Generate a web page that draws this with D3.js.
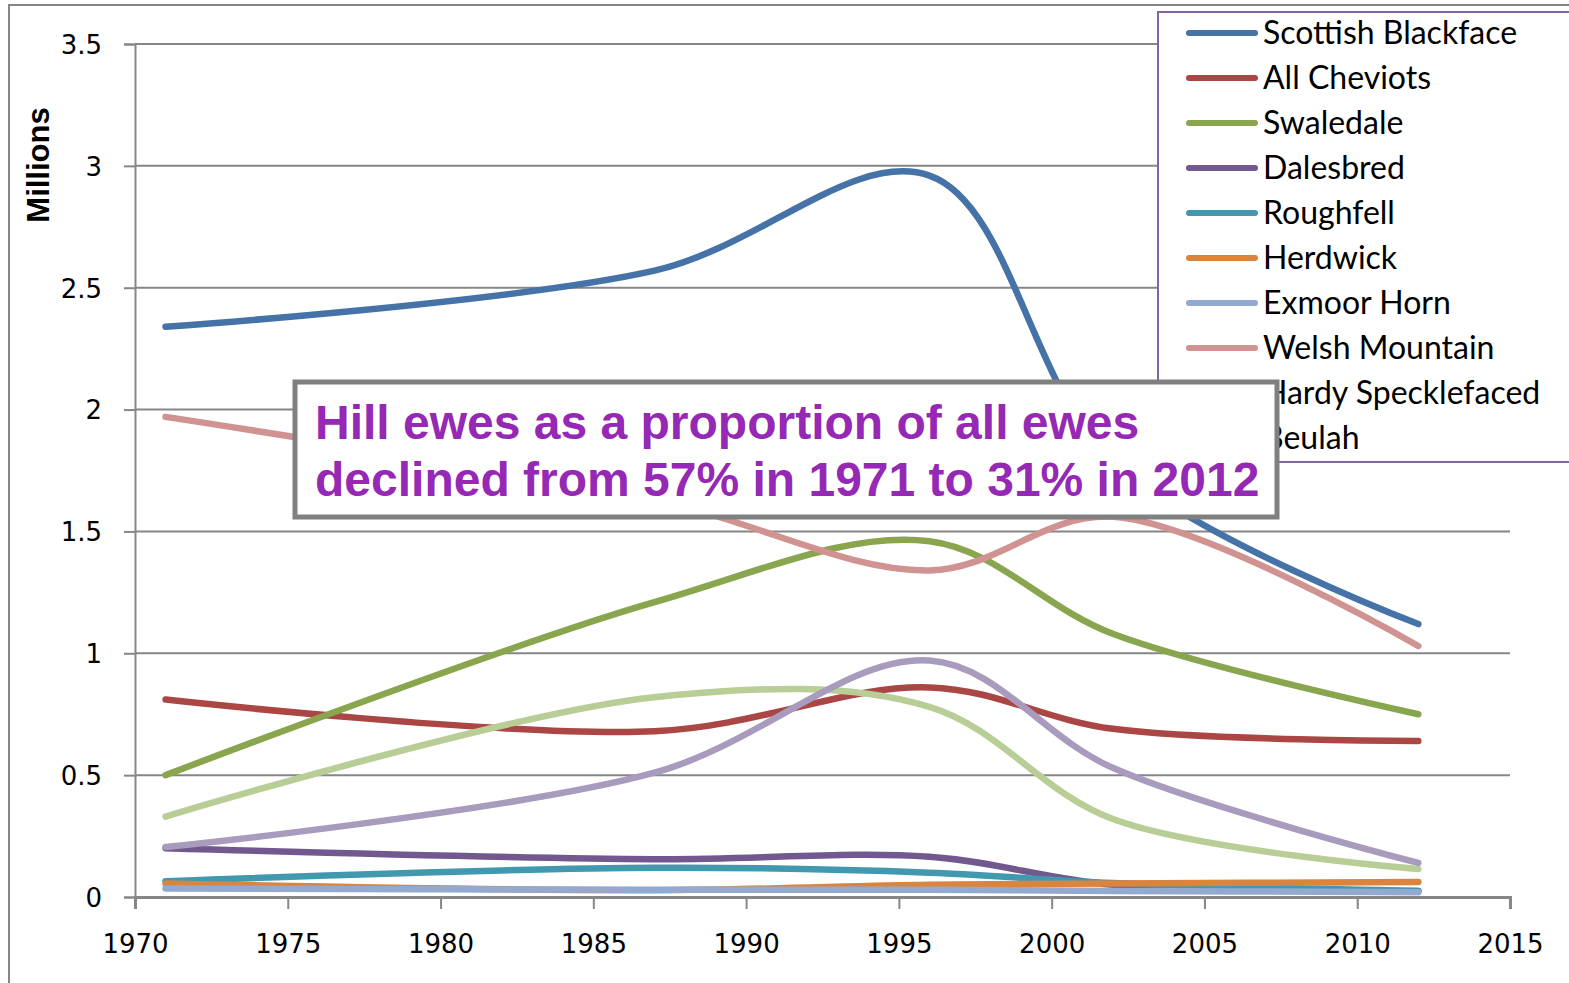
<!DOCTYPE html>
<html>
<head>
<meta charset="utf-8">
<script src="https://cdn.jsdelivr.net/npm/d3@7"></script>
<style>
  body { margin: 0; background: #fff; }
  svg { display: block; }
</style>
</head>
<body>
<svg id="chart"></svg>
<script>
// survey years
const years = [1971, 1987, 1996, 2002, 2012];

// breeds, in legend order
const breeds = ["Scottish Blackface", "All Cheviots", "Swaledale", "Dalesbred", "Roughfell",
    "Herdwick", "Exmoor Horn", "Welsh Mountain", "Hardy Specklefaced", "Beulah"];

// ewes, millions
const scottishBlackface = [2.34, 2.57, 2.96, 1.78, 1.12];
const allCheviots       = [0.81, 0.68, 0.86, 0.69, 0.64];
const swaledale         = [0.50, 1.21, 1.46, 1.08, 0.75];
const dalesbred         = [0.20, 0.155, 0.165, 0.05, 0.025];
const roughfell         = [0.065, 0.12, 0.10, 0.057, 0.025];
const herdwick          = [0.055, 0.028, 0.05, 0.055, 0.062];
const exmoorHorn        = [0.035, 0.03, 0.03, 0.025, 0.02];
const welshMountain     = [1.97, 1.63, 1.34, 1.56, 1.03];
const hardySpeckled     = [0.33, 0.82, 0.78, 0.32, 0.115];
const beulah            = [0.205, 0.51, 0.97, 0.53, 0.14];

const seriesValues = [scottishBlackface, allCheviots, swaledale, dalesbred, roughfell,
    herdwick, exmoorHorn, welshMountain, hardySpeckled, beulah];

const colors = ["#4572A7", "#AA4643", "#89A54E", "#71588F", "#4198AF",
    "#DB843D", "#93A9CF", "#D19392", "#B9CD96", "#A99BBD"];

const xTicks = [1970, 1975, 1980, 1985, 1990, 1995, 2000, 2005, 2010, 2015];
const yTicks = [0, 0.5, 1, 1.5, 2, 2.5, 3, 3.5];

const noteLines = ["Hill ewes as a proportion of all ewes",
    "declined from 57% in 1971 to 31% in 2012"];

const W = 1569, H = 983;
const svg = d3.select("#chart").attr("width", W).attr("height", H);

const x = d3.scaleLinear().domain([1970, 2015]).range([135, 1510]);
const y = d3.scaleLinear().domain([0, 3.5]).range([897, 44]);
const gray = "#868686";

// outer chart border
svg.append("rect")
    .attr("x", 9).attr("y", 5)
    .attr("width", W + 20).attr("height", H - 4)
    .attr("fill", "none").attr("stroke", gray).attr("stroke-width", 2);

// gridlines
svg.append("g")
    .selectAll("line")
    .data(yTicks.filter(d => d > 0))
    .enter().append("line")
    .attr("x1", x(1970)).attr("x2", x(2015))
    .attr("y1", d => y(d)).attr("y2", d => y(d))
    .attr("stroke", gray).attr("stroke-width", 2);

// y axis
const yAxis = svg.append("g")
    .attr("transform", `translate(${x(1970)},0)`)
    .call(d3.axisLeft(y).tickValues(yTicks).tickSize(11).tickPadding(22)
        .tickFormat(d => d3.format("")(d)));
yAxis.select(".domain").attr("stroke", gray).attr("stroke-width", 2);
yAxis.selectAll(".tick line").attr("stroke", gray).attr("stroke-width", 2);
yAxis.selectAll(".tick text")
    .attr("font-family", "DejaVu Sans").attr("font-size", 26)
    .attr("fill", "#000").attr("dy", "0.36em");

// x axis
const xAxis = svg.append("g")
    .attr("transform", `translate(0,${y(0)})`)
    .call(d3.axisBottom(x).tickValues(xTicks).tickSize(12).tickPadding(26)
        .tickFormat(d3.format("d")));
xAxis.select(".domain").attr("stroke", gray).attr("stroke-width", 3);
xAxis.selectAll(".tick line").attr("stroke", gray).attr("stroke-width", 2);
xAxis.selectAll(".tick text")
    .attr("font-family", "DejaVu Sans").attr("font-size", 26).attr("fill", "#000");

// axis title
svg.append("text")
    .attr("transform", `translate(49,165) rotate(-90)`)
    .attr("text-anchor", "middle")
    .attr("font-family", "Liberation Sans Narrow, Arial Narrow, sans-serif")
    .attr("font-weight", "bold").attr("font-size", 31)
    .text("Millions");

// lines
const line = d3.line()
    .x(d => x(d[0]))
    .y(d => y(d[1]))
    .curve(d3.curveCatmullRom.alpha(0.5));

svg.append("g")
    .selectAll("path")
    .data(seriesValues)
    .enter().append("path")
    .attr("d", vals => line(vals.map((v, i) => [years[i], v])))
    .attr("fill", "none")
    .attr("stroke", (d, i) => colors[i])
    .attr("stroke-width", 6.5)
    .attr("stroke-linecap", "round")
    .attr("stroke-linejoin", "round");

// legend
const legend = svg.append("g");
legend.append("rect")
    .attr("x", 1158).attr("y", 12)
    .attr("width", 440).attr("height", 450)
    .attr("fill", "#fff").attr("stroke", "#8064A2").attr("stroke-width", 2);

const item = legend.selectAll(".item")
    .data(breeds)
    .enter().append("g")
    .attr("class", "item")
    .attr("transform", (d, i) => `translate(0,${33 + i * 45})`);
item.append("line")
    .attr("x1", 1189).attr("x2", 1255)
    .attr("stroke", (d, i) => colors[i])
    .attr("stroke-width", 6).attr("stroke-linecap", "round");
item.append("text")
    .attr("x", 1263).attr("dy", "0.35em")
    .attr("font-family", "Lato, sans-serif").attr("font-size", 32)
    .text(d => d);

// annotation
const note = svg.append("g");
note.append("rect")
    .attr("x", 295).attr("y", 382)
    .attr("width", 982).attr("height", 135)
    .attr("fill", "#fff").attr("stroke", "#808080").attr("stroke-width", 5);
note.selectAll("text")
    .data(noteLines)
    .enter().append("text")
    .attr("x", 315).attr("y", (d, i) => 439 + i * 57)
    .attr("font-family", "Liberation Sans, Arial, sans-serif")
    .attr("font-weight", "bold").attr("font-size", 48)
    .attr("fill", "#9528B4")
    .text(d => d);
</script>
</body>
</html>
